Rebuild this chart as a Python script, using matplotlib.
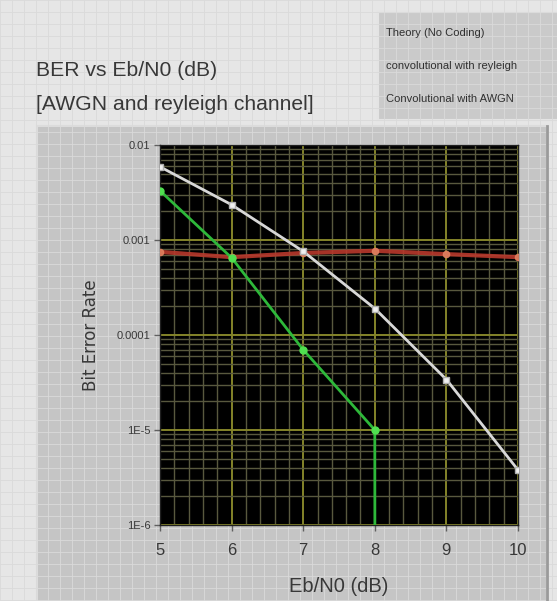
import matplotlib
matplotlib.use("Agg")
import matplotlib.pyplot as plt
from matplotlib.patches import Rectangle
import numpy as np

# ---------------- data ----------------
ebn0 = [5, 6, 7, 8, 9, 10]
ber_theory = [5.9e-3, 2.35e-3, 7.6e-4, 1.9e-4, 3.4e-5, 3.8e-6]
ber_rayleigh = [7.5e-4, 6.6e-4, 7.3e-4, 7.7e-4, 7.1e-4, 6.6e-4]
ber_awgn = [3.3e-3, 6.5e-4, 7.0e-5, 1.0e-5, 0.0, 0.0]
legend_labels = ["Theory (No Coding)", "convolutional with reyleigh", "Convolutional with AWGN"]
ytick_vals = [1e-2, 1e-3, 1e-4, 1e-5, 1e-6]
ytick_labels = ["0.01", "0.001", "0.0001", "1E-5", "1E-6"]
xtick_vals = [5, 6, 7, 8, 9, 10]
xtick_labels = ["5", "6", "7", "8", "9", "10"]
title_lines = ["BER vs Eb/N0 (dB)", "[AWGN and reyleigh channel]"]
xlabel = "Eb/N0 (dB)"
ylabel = "Bit Error Rate"

FAM = ["Liberation Sans", "DejaVu Sans"]
TXT = "#383838"

W, H = 557, 601
fig = plt.figure(figsize=(W / 100, H / 100), dpi=100)
fig.patch.set_facecolor("#e6e6e6")

# background panel (pixel coordinates)
bg = fig.add_axes([0, 0, 1, 1], zorder=0)
bg.set_xlim(0, W)
bg.set_ylim(H, 0)
bg.axis("off")
for gx in np.arange(0, W, 12):
    bg.plot([gx, gx], [0, H], color="#dadada", lw=0.6)
for gy in np.arange(0, H, 12):
    bg.plot([0, W], [gy, gy], color="#dadada", lw=0.6)
# graph frame
bg.add_patch(Rectangle((37, 126), 510, 480, facecolor="#c5c5c5", edgecolor="#dcdcdc", lw=1.5))
bg.plot([547, 547], [126, H], color="#9a9a9a", lw=2)
# legend box
bg.add_patch(Rectangle((378, 12), 190, 108, facecolor="#cacaca", edgecolor="#e4e4e4", lw=1.5))

for i, lab in enumerate(legend_labels):
    bg.text(386, 33 + 33 * i, lab, fontsize=8, family=FAM, color="#303030",
            va="center", ha="left", clip_on=False)

bg.text(36, 70, title_lines[0], fontsize=15.2, family=FAM, color=TXT, va="center", ha="left")
bg.text(36, 104, title_lines[1], fontsize=15.2, family=FAM, color=TXT, va="center", ha="left")

# ---------------- main plot ----------------
L, R, T, B = 160, 518, 145, 525
ax = fig.add_axes([L / W, 1 - B / H, (R - L) / W, (B - T) / H], zorder=2)
ax.set_facecolor("black")
ax.set_yscale("log")
ax.set_xlim(5, 10)
ax.set_ylim(1e-6, 1e-2)

ax.set_xticks(np.arange(5, 10.01, 0.2), minor=True)
ax.grid(True, which="minor", color="#58583e", lw=1.0)
ax.grid(True, which="major", color="#84842a", lw=1.4)
ax.set_axisbelow(True)

ax.plot(ebn0, ber_rayleigh, color="#b8382c", lw=3.0, alpha=0.9, marker="o", ms=4.5,
        mfc="#e08060", mec="#e08060", zorder=3)
ax.plot(ebn0, ber_awgn, color="#2eb83a", lw=2.0, marker="o", ms=5,
        mfc="#50e050", mec="#50e050", zorder=4)
ax.plot(ebn0, ber_theory, color="#d8d8d8", lw=2.0, marker="s", ms=5,
        mfc="#f0f0f0", mec="#b0b0b0", zorder=5)

ax.set_yticks(ytick_vals)
ax.set_yticklabels(ytick_labels, family=FAM, fontsize=8, color=TXT)
ax.yaxis.set_minor_locator(matplotlib.ticker.LogLocator(base=10, subs=np.arange(2, 10)))
ax.yaxis.set_minor_formatter(matplotlib.ticker.NullFormatter())
ax.set_xticks(xtick_vals)
ax.set_xticklabels(xtick_labels, family=FAM, fontsize=12, color=TXT)
ax.tick_params(axis="both", which="minor", length=0)
ax.tick_params(axis="y", which="major", length=4, width=1, color="#606060", pad=3)
ax.tick_params(axis="x", which="major", length=4, width=1, color="#606060", pad=9)
for s in ax.spines.values():
    s.set_color("#202020")
    s.set_linewidth(1)

ax.set_xlabel(xlabel, family=FAM, fontsize=14.5, color=TXT, labelpad=14)
ax.set_ylabel(ylabel, family=["DejaVu Sans"], fontsize=12, color=TXT, labelpad=12)

fig.savefig("out.png", dpi=100, facecolor=fig.get_facecolor())
